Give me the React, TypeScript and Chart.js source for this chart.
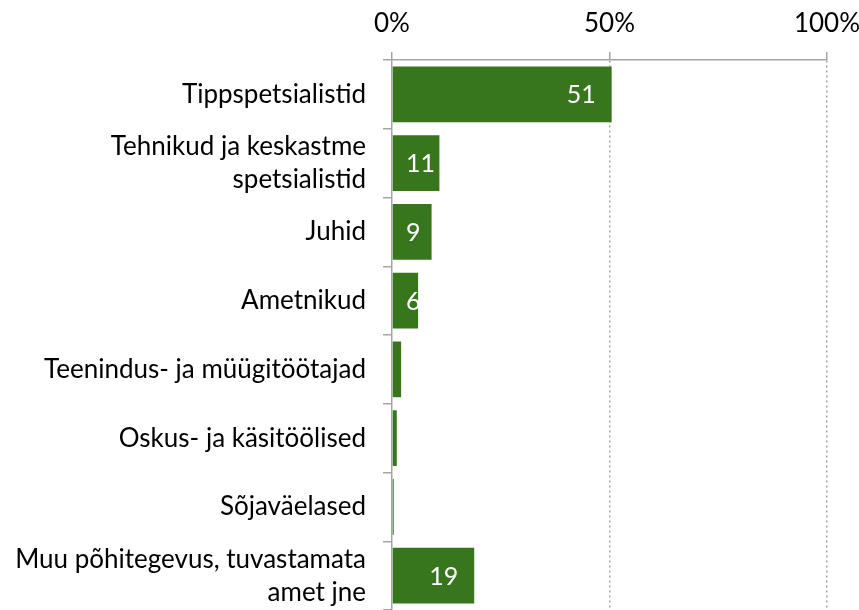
import React, { useEffect, useRef } from "react";
import { Chart, registerables } from "chart.js";

Chart.register(...registerables);

const categories: (string | string[])[] = [
  "Tippspetsialistid",
  ["Tehnikud ja keskastme", "spetsialistid"],
  "Juhid",
  "Ametnikud",
  "Teenindus- ja müügitöötajad",
  "Oskus- ja käsitöölised",
  "Sõjaväelased",
  ["Muu põhitegevus, tuvastamata", "amet jne"],
];
const values: number[] = [50.5, 10.9, 9.1, 6.0, 2.1, 1.1, 0.4, 18.9];
const shownLabels: string[] = ["51", "11", "9", "6", "", "", "", "19"];
const xTicks: number[] = [0, 50, 100];

const FONT = "Lato";
const GREEN = "#38761d";
const GRAY = "#a6a6a6";

const barLabelPlugin = {
  id: "barLabels",
  afterDatasetsDraw(chart: any) {
    const { ctx } = chart;
    const meta = chart.getDatasetMeta(0);
    const xScale = chart.scales.x;
    const base = xScale.getPixelForValue(0);
    ctx.save();
    ctx.font = `25px ${FONT}`;
    ctx.fillStyle = "#ffffff";
    ctx.textAlign = "left";
    ctx.textBaseline = "middle";
    meta.data.forEach((bar: any, i: number) => {
      const txt = shownLabels[i];
      if (!txt) return;
      const w = ctx.measureText(txt).width;
      const x = Math.max(bar.x - 16 - w, base + 14);
      ctx.fillText(txt, x, bar.y + 1);
    });
    ctx.restore();
  },
};

export default function App() {
  const ref = useRef<HTMLCanvasElement>(null);
  useEffect(() => {
    document.body.style.margin = "0";
    const chart = new Chart(ref.current!, {
      type: "bar",
      data: {
        labels: categories,
        datasets: [
          {
            data: values,
            backgroundColor: GREEN,
            borderWidth: 0,
            barPercentage: 0.81,
            categoryPercentage: 1,
          },
        ],
      },
      options: {
        indexAxis: "y",
        animation: false,
        responsive: false,
        maintainAspectRatio: false,
        layout: { padding: { left: 0, right: 32, top: 0, bottom: -2 } },
        plugins: { legend: { display: false }, tooltip: { enabled: false } },
        scales: {
          x: {
            position: "top",
            min: 0,
            max: 100,
            afterBuildTicks: (scale: any) => {
              scale.ticks = xTicks.map((v) => ({ value: v }));
            },
            afterFit: (scale: any) => {
              scale.height = 60;
              scale.paddingLeft = 0;
              scale.paddingRight = 0;
            },
            ticks: {
              callback: (v: any) => `${v}%`,
              color: "#000000",
              font: { family: FONT, size: 26 },
              padding: 13,
              maxRotation: 0,
            },
            grid: {
              color: (c: any) => (c.tick && c.tick.value === 0 ? "rgba(0,0,0,0)" : GRAY),
              lineWidth: 1.5,
              tickColor: GRAY,
              tickLength: 8,
              drawTicks: true,
            },
            border: { display: true, color: GRAY, width: 1.5, dash: [2, 3] },
          },
          y: {
            afterFit: (scale: any) => {
              scale.width = 392;
              scale.paddingTop = 0;
              scale.paddingBottom = 0;
            },
            ticks: {
              color: "#000000",
              font: { family: FONT, size: 26, lineHeight: 1.27 },
              padding: 17,
              autoSkip: false,
            },
            grid: {
              offset: true,
              drawOnChartArea: false,
              drawTicks: true,
              tickLength: 9,
              tickColor: GRAY,
              lineWidth: 1.5,
            },
            border: { display: true, color: GRAY, width: 1.5 },
          },
        },
      },
      plugins: [barLabelPlugin],
    } as any);
    return () => chart.destroy();
  }, []);
  return (
    <div style={{ width: 859, height: 610 }}>
      <canvas ref={ref} width={859} height={610} style={{ display: "block" }} />
    </div>
  );
}
